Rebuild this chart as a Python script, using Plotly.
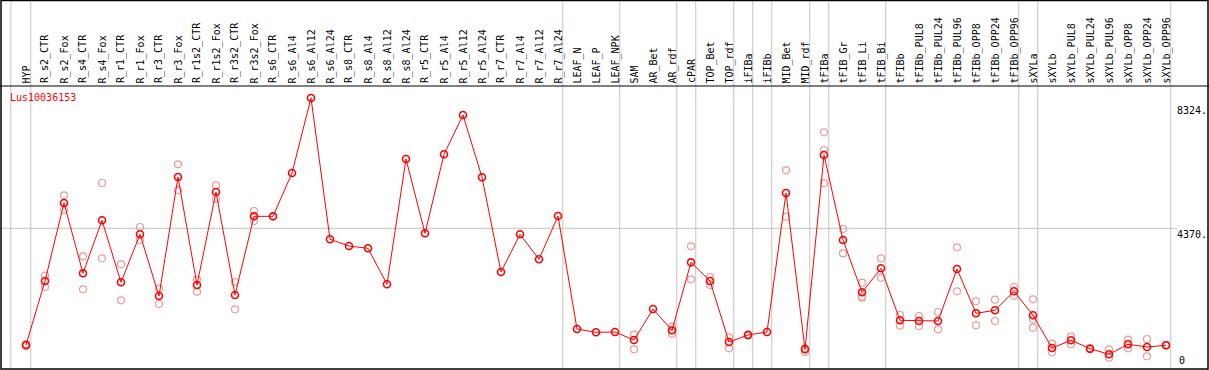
import plotly.graph_objects as go

categories = [
    "HYP", "R_s2_CTR", "R_s2_Fox", "R_s4_CTR", "R_s4_Fox", "R_r1_CTR", "R_r1_Fox",
    "R_r3_CTR", "R_r3_Fox", "R_r1s2_CTR", "R_r1s2_Fox", "R_r3s2_CTR", "R_r3s2_Fox",
    "R_s6_CTR", "R_s6_Al4", "R_s6_Al12", "R_s6_Al24", "R_s8_CTR", "R_s8_Al4",
    "R_s8_Al12", "R_s8_Al24", "R_r5_CTR", "R_r5_Al4", "R_r5_Al12", "R_r5_Al24",
    "R_r7_CTR", "R_r7_Al4", "R_r7_Al12", "R_r7_Al24", "LEAF_N", "LEAF_P", "LEAF_NPK",
    "SAM", "AR_Bet", "AR_rdf", "cPAR", "TOP_Bet", "TOP_rdf", "iFIBa", "iFIBb",
    "MID_Bet", "MID_rdf", "tFIBa", "tFIB_Gr", "tFIB_Li", "tFIB_Bi", "tFIBb",
    "tFIBb_PUL8", "tFIBb_PUL24", "tFIBb_PUL96", "tFIBb_OPP8", "tFIBb_OPP24",
    "tFIBb_OPP96", "sXYLa", "sXYLb", "sXYLb_PUL8", "sXYLb_PUL24", "sXYLb_PUL96",
    "sXYLb_OPP8", "sXYLb_OPP24", "sXYLb_OPP96",
]

# number of categories in each separated group (left to right)
group_sizes = [1, 28, 3, 3, 1, 2, 1, 1, 2, 1, 3, 7, 1, 7]

mean_values = [
    658, 2694, 5175, 2939, 4624, 2652, 4179, 2217, 6002, 2567, 5525, 2249, 4751,
    4751, 6129, 8515, 4020, 3807, 3734, 2589, 6574, 4211, 6724, 7974, 5992,
    2980, 4179, 3384, 4761, 1167, 1062, 1072,
    817, 1803, 1126, 3288, 2694, 754, 976, 1072, 5493, 522, 6702, 3998, 2335, 3098,
    1444, 1422, 1422, 3076, 1667, 1762, 2366, 1603, 563, 808, 541, 363, 681, 595, 649,
]

N = None
rep_a = [
    680, 2863, 5420, 3480, 5811, 3225, 4412, 2449, 6405, 2736, 5738, 2662, 4920,
    N, N, N, N, N, N, N, N, N, N, N, N, N, N, N, N, N, N, N,
    986, N, 1241, 3798, 2821, 903, 995, N, 6215, 436, 7424, 4348, 2640, 3416,
    1613, 1581, 1708, 3766, 2048, 2099, 2503, 2112, 700, 922, 560, 522, 827, 849, 665,
]
rep_b = [
    620, 2503, 4952, 2430, 3416, 2080, 3998, 1962, 5589, 2354, 5302, 1794, 4602,
    N, N, N, N, N, N, N, N, N, N, N, N, N, N, N, N, N, N, N,
    522, N, 1008, 2748, 2567, 553, 960, N, 4739, 560, 6861, 3575, 2163, 2799,
    1272, 1263, 1158, 2366, 1285, 1422, 2226, 1476, 426, 681, 520, 254, 553, 299, 640,
]
rep_c = [
    N, N, N, N, N, N, N, N, N, N, N, N, N,
    N, N, N, N, N, N, N, N, N, N, N, N, N, N, N, N, N, N, N,
    N, N, N, N, N, N, N, N, N, N, 5801, N, 2200, N,
    N, N, N, N, N, N, N, 1209, N, N, N, N, N, N, N,
]

gene_label = "Lus10036153"
y_tick_values = [8324, 4370, 0]
y_tick_labels = ["8324.", "4370.", "0"]
grid_value = 4370

# ---------------- geometry (pixels) ----------------
W, H = 1209, 370
X0_PX, DX_PX = 26.0, 19.0          # pixel x of first category, spacing
ZERO_PX, PX_PER_UNIT = 365.7, 0.03144  # pixel y of value 0, scale
HEADER_PX = 86

xr = [(0 - X0_PX) / DX_PX, (W - X0_PX) / DX_PX]
yr = [-(H - ZERO_PX) / PX_PER_UNIT, ZERO_PX / PX_PER_UNIT]


def px_x(p):
    return p / W


def px_y(p):
    return 1 - p / H


idx = list(range(len(categories)))

fig = go.Figure()

rx, ry = [], []
for reps in (rep_a, rep_b, rep_c):
    for i, v in enumerate(reps):
        if v is not None:
            rx.append(i)
            ry.append(v)

fig.add_trace(go.Scatter(
    x=rx, y=ry, mode="markers", hoverinfo="skip",
    marker=dict(symbol="circle-open", size=7, color="#EE9A9A", line=dict(width=1.2)),
    showlegend=False,
))
fig.add_trace(go.Scatter(
    x=idx, y=mean_values, mode="lines+markers",
    line=dict(color="#FF0000", width=1),
    marker=dict(symbol="circle-open", size=7, color="#FF0000", line=dict(width=1.6)),
    showlegend=False,
))

shapes = []
# group separator lines
sep_positions = [-0.8]
end = -1
for g in group_sizes:
    end += g
    sep_positions.append(end + 0.25)
for s in sep_positions:
    shapes.append(dict(type="line", xref="x", yref="paper", x0=s, x1=s,
                       y0=px_y(H - 1), y1=px_y(0), line=dict(color="#C4C4C4", width=1),
                       layer="below"))
# horizontal grid line
shapes.append(dict(type="line", xref="paper", yref="y", x0=px_x(1), x1=px_x(1177),
                   y0=grid_value, y1=grid_value, line=dict(color="#C4C4C4", width=1),
                   layer="below"))
# header separator
shapes.append(dict(type="line", xref="paper", yref="paper", x0=0, x1=1,
                   y0=px_y(HEADER_PX), y1=px_y(HEADER_PX), line=dict(color="black", width=1)))
# outer frame
shapes.append(dict(type="rect", xref="paper", yref="paper", x0=px_x(1), x1=px_x(1208),
                   y0=px_y(369), y1=px_y(0.5), line=dict(color="black", width=1.5)))

annotations = []
mono = "DejaVu Sans Mono"
for i, c in enumerate(categories):
    annotations.append(dict(
        x=i, y=px_y(84.5), xref="x", yref="paper", text=c, textangle=-90,
        showarrow=False, xanchor="center", yanchor="bottom", borderpad=0,
        font=dict(family=mono, size=10, color="black"),
    ))
annotations.append(dict(
    x=px_x(9), y=px_y(97), xref="paper", yref="paper", text=gene_label,
    showarrow=False, xanchor="left", yanchor="middle", borderpad=0,
    font=dict(family=mono, size=10, color="#FF0000"),
))
for v, t in zip(y_tick_values, y_tick_labels):
    if v == 0:
        annotations.append(dict(x=px_x(1178), y=px_y(367), xref="paper", yref="paper",
                                text=t, showarrow=False, xanchor="left", yanchor="bottom",
                                borderpad=0, font=dict(family=mono, size=10, color="black")))
    else:
        annotations.append(dict(x=px_x(1176), y=v, xref="paper", yref="y",
                                text=t, showarrow=False, xanchor="left", yanchor="top",
                                borderpad=0, font=dict(family=mono, size=10, color="black")))

fig.update_layout(
    width=W, height=H, margin=dict(l=0, r=0, t=0, b=0, pad=0),
    paper_bgcolor="white", plot_bgcolor="white",
    xaxis=dict(range=xr, domain=[0, 1], visible=False, fixedrange=True),
    yaxis=dict(range=yr, domain=[0, 1], visible=False, fixedrange=True),
    shapes=shapes, annotations=annotations, showlegend=False,
)

fig.write_html(
    "out.html",
    config={"displayModeBar": False},
    post_script="document.body.style.margin='0';document.body.style.overflow='hidden';",
)
